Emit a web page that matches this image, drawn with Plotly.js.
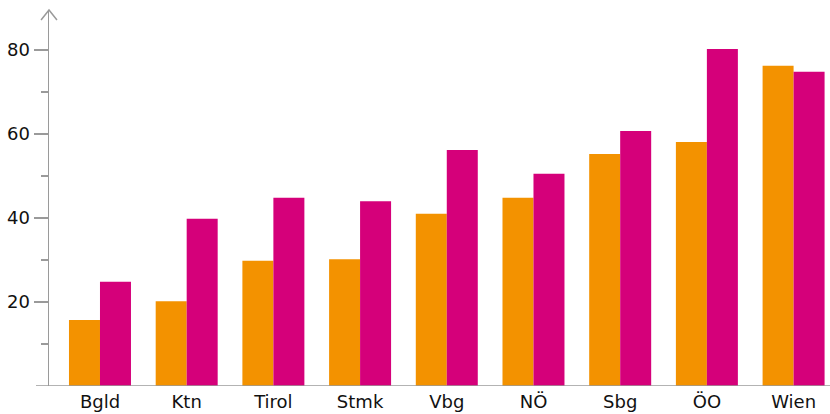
<!DOCTYPE html>
<html>
<head>
<meta charset="utf-8">
<script src="https://cdn.plot.ly/plotly-3.0.1.min.js"></script>
<style>html,body{margin:0;padding:0;background:#fff;}#chart{width:830px;height:414px;}</style>
</head>
<body>
<div id="chart"></div>
<script>
const categories = ["Bgld", "Ktn", "Tirol", "Stmk", "Vbg", "NÖ", "Sbg", "ÖO", "Wien"];
const seriesOrange = [15.7, 20.2, 29.8, 30.2, 41.0, 44.8, 55.2, 58.1, 76.2];
const seriesMagenta = [24.8, 39.8, 44.8, 44.0, 56.2, 50.5, 60.7, 80.2, 74.8];
const yTickVals = [20, 40, 60, 80];
const yMinorVals = [10, 30, 50, 70];

const axisGrey = '#9a9a9a';
const traces = [
  {type: 'bar', x: categories, y: seriesOrange, marker: {color: '#f39200'}, hoverinfo: 'x+y'},
  {type: 'bar', x: categories, y: seriesMagenta, marker: {color: '#d5007a'}, hoverinfo: 'x+y'}
];
const layout = {
  width: 830, height: 414,
  margin: {l: 49, r: 0, t: 10, b: 28, pad: 0},
  paper_bgcolor: '#fff', plot_bgcolor: '#fff',
  showlegend: false,
  barmode: 'group', bargap: 0.285, bargroupgap: 0,
  font: {family: '"DejaVu Sans", sans-serif', size: 18, color: '#111'},
  xaxis: {
    type: 'category', range: [-0.588, 8.42],
    showline: false, showgrid: false, zeroline: false, ticks: '',
    ticklabelstandoff: 3,
    tickfont: {size: 18, color: '#111'}, fixedrange: true
  },
  yaxis: {
    range: [0, 89.5], showgrid: false, zeroline: false,
    showline: true, linecolor: axisGrey, linewidth: 1.5,
    tickmode: 'array', tickvals: yTickVals, ticktext: yTickVals.map(String),
    ticks: 'outside', ticklen: 14, tickcolor: axisGrey, tickwidth: 1.5,
    minor: {tickmode: 'array', tickvals: yMinorVals, ticks: 'outside', ticklen: 7, tickcolor: axisGrey, tickwidth: 1.5},
    tickfont: {size: 18, color: '#111'}, fixedrange: true
  },
  shapes: [
    {type: 'line', xref: 'paper', yref: 'y', x0: -13/781, x1: 1, y0: 0, y1: 0, line: {color: axisGrey, width: 1.5}},
    {type: 'path', xref: 'paper', yref: 'paper', path: 'M -0.0102 0.9734 L 0 1 L 0.0102 0.9734', line: {color: axisGrey, width: 1.5}}
  ]
};
Plotly.newPlot('chart', traces, layout, {displayModeBar: false, staticPlot: true});
</script>
</body>
</html>
